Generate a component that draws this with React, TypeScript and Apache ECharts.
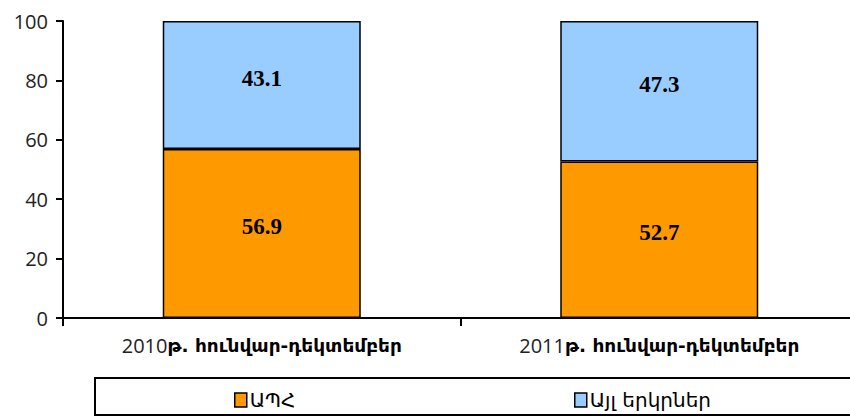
import React, { useEffect, useRef } from "react";
import * as echarts from "echarts";

const categories = ["2010թ. հունվար-դեկտեմբեր", "2011թ. հունվար-դեկտեմբեր"];
const seriesNames = ["ԱՊՀ", "Այլ երկրներ"];
const cisValues = [56.9, 52.7];
const otherValues = [43.1, 47.3];
const yTicks = { min: 0, max: 100, interval: 20 };

export default function App() {
  const ref = useRef<HTMLDivElement>(null);
  useEffect(() => {
    const chart = echarts.init(ref.current!, null, { renderer: "svg" });
    const labelStyle = {
      show: true,
      position: "inside",
      offset: [0, -7],
      color: "#000",
      fontFamily: "Liberation Serif",
      fontWeight: "bold",
      fontSize: 23,
    };
    const legendText = { fontFamily: "DejaVu Sans", fontSize: 20, color: "#000", padding: [0, 0, 0, -2] };
    chart.setOption({
      animation: false,
      backgroundColor: "#fff",
      grid: { left: 63, top: 21, width: 795, height: 297 },
      xAxis: {
        type: "category",
        data: categories,
        axisLine: { lineStyle: { color: "#000", width: 2 } },
        axisTick: { show: true, length: 8, lineStyle: { color: "#000", width: 2 } },
        axisLabel: {
          margin: 17,
          formatter: (v: string) => {
            const m = v.match(/^(\d+)(.*)$/);
            return m ? `{y|${m[1]}}{a|${m[2]}}` : v;
          },
          rich: {
            y: { fontFamily: "Open Sans", fontSize: 20, color: "#222" },
            a: { fontFamily: "DejaVu Sans", fontSize: 18.5, color: "#000", fontWeight: "bold" },
          },
        },
      },
      yAxis: {
        type: "value",
        min: yTicks.min,
        max: yTicks.max,
        interval: yTicks.interval,
        splitLine: { show: false },
        axisLine: { show: true, lineStyle: { color: "#000", width: 2 } },
        axisTick: { show: true, length: 7, lineStyle: { color: "#000", width: 2 } },
        axisLabel: { fontFamily: "Open Sans", fontSize: 20, color: "#222", margin: 15 },
      },
      legend: [
        {
          data: [seriesNames[0]],
          left: 229,
          top: 385,
          itemWidth: 12,
          itemHeight: 14,
          icon: "rect",
          itemStyle: { borderColor: "#000", borderWidth: 1.5 },
          textStyle: legendText,
        },
        {
          data: [seriesNames[1]],
          left: 569,
          top: 385,
          itemWidth: 12,
          itemHeight: 14,
          icon: "rect",
          itemStyle: { borderColor: "#000", borderWidth: 1.5 },
          textStyle: legendText,
        },
      ],
      graphic: [
        {
          type: "rect",
          shape: { x: 95, y: 378, width: 800, height: 37 },
          style: { fill: "none", stroke: "#000", lineWidth: 2 },
          z: -1,
        },
      ],
      series: [
        {
          name: seriesNames[0],
          type: "bar",
          stack: "total",
          barWidth: 198,
          data: cisValues,
          itemStyle: { color: "#FF9900", borderColor: "#000", borderWidth: 1.5 },
          label: labelStyle,
        },
        {
          name: seriesNames[1],
          type: "bar",
          stack: "total",
          barWidth: 198,
          data: otherValues,
          itemStyle: { color: "#99CCFF", borderColor: "#000", borderWidth: 1.5 },
          label: labelStyle,
        },
      ],
    });
    return () => chart.dispose();
  }, []);
  return (
    <div style={{ position: "absolute", left: 0, top: 0, width: 850, height: 418, overflow: "hidden" }}>
      <div ref={ref} style={{ width: 862, height: 418 }} />
    </div>
  );
}
